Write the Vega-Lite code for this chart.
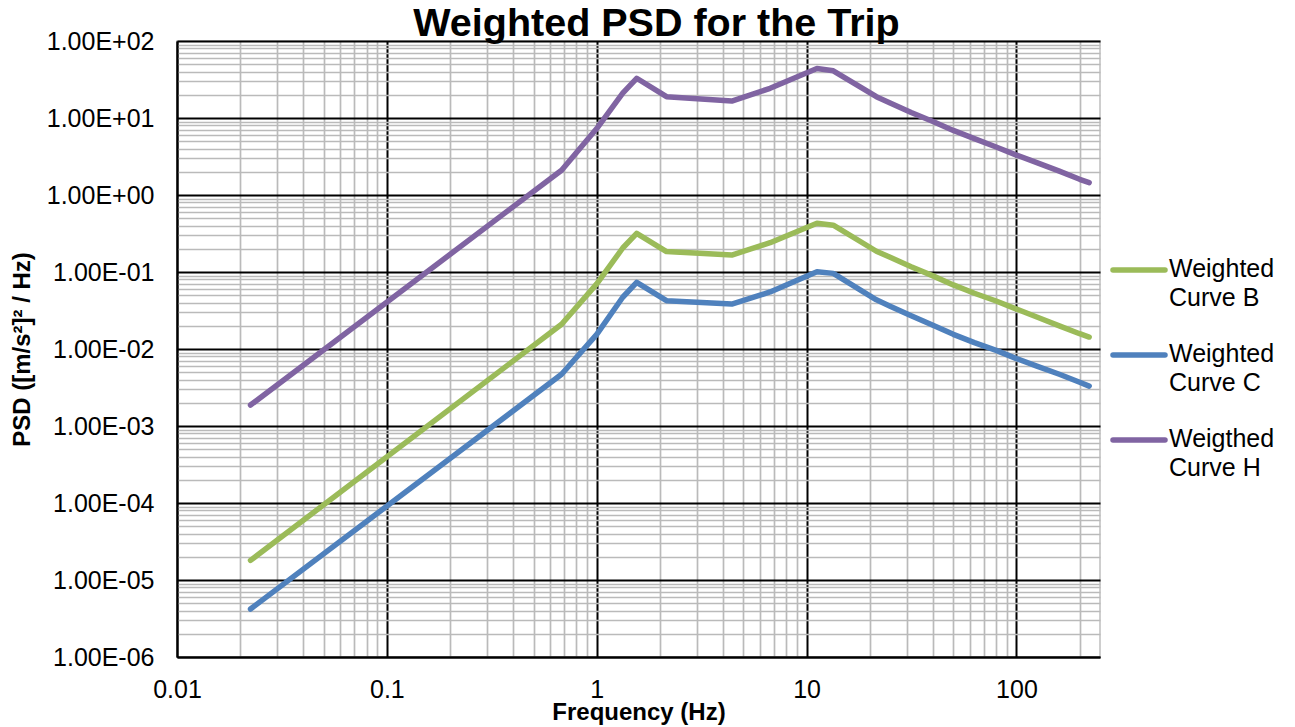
{
  "$schema": "https://vega.github.io/schema/vega-lite/v6.json",
  "width": 923,
  "height": 616,
  "autosize": {"type": "none"},
  "padding": {"left": 177, "top": 41, "right": 195, "bottom": 70},
  "background": "white",
  "config": {
    "view": {"stroke": "#bfbfbf", "strokeWidth": 1.5},
    "font": "Liberation Sans"
  },
  "title": {
    "text": "Weighted PSD for the Trip",
    "font": "Liberation Sans",
    "fontSize": 39.5,
    "fontWeight": "bold",
    "color": "black",
    "anchor": "middle",
    "dx": 18,
    "baseline": "alphabetic",
    "offset": -46
  },
  "data": {
    "values": [
      {"series": "Weighted Curve B", "f": 0.0224, "psd": 0.000018},
      {"series": "Weighted Curve B", "f": 0.68, "psd": 0.021},
      {"series": "Weighted Curve B", "f": 1.0, "psd": 0.07},
      {"series": "Weighted Curve B", "f": 1.33, "psd": 0.205},
      {"series": "Weighted Curve B", "f": 1.55, "psd": 0.318},
      {"series": "Weighted Curve B", "f": 2.15, "psd": 0.184},
      {"series": "Weighted Curve B", "f": 4.4, "psd": 0.166},
      {"series": "Weighted Curve B", "f": 6.7, "psd": 0.24},
      {"series": "Weighted Curve B", "f": 11.2, "psd": 0.43},
      {"series": "Weighted Curve B", "f": 13.4, "psd": 0.405},
      {"series": "Weighted Curve B", "f": 21.5, "psd": 0.186},
      {"series": "Weighted Curve B", "f": 25, "psd": 0.155},
      {"series": "Weighted Curve B", "f": 31.5, "psd": 0.117},
      {"series": "Weighted Curve B", "f": 40, "psd": 0.089},
      {"series": "Weighted Curve B", "f": 50, "psd": 0.068},
      {"series": "Weighted Curve B", "f": 63, "psd": 0.053},
      {"series": "Weighted Curve B", "f": 80, "psd": 0.042},
      {"series": "Weighted Curve B", "f": 100, "psd": 0.033},
      {"series": "Weighted Curve B", "f": 125, "psd": 0.026},
      {"series": "Weighted Curve B", "f": 160, "psd": 0.02},
      {"series": "Weighted Curve B", "f": 200, "psd": 0.0158},
      {"series": "Weighted Curve B", "f": 222, "psd": 0.0143},
      {"series": "Weighted Curve C", "f": 0.0224, "psd": 0.0000042},
      {"series": "Weighted Curve C", "f": 0.68, "psd": 0.0047},
      {"series": "Weighted Curve C", "f": 1.0, "psd": 0.0155},
      {"series": "Weighted Curve C", "f": 1.33, "psd": 0.047},
      {"series": "Weighted Curve C", "f": 1.55, "psd": 0.0734},
      {"series": "Weighted Curve C", "f": 2.15, "psd": 0.0424},
      {"series": "Weighted Curve C", "f": 4.4, "psd": 0.0384},
      {"series": "Weighted Curve C", "f": 6.7, "psd": 0.055},
      {"series": "Weighted Curve C", "f": 11.2, "psd": 0.101},
      {"series": "Weighted Curve C", "f": 13.4, "psd": 0.096},
      {"series": "Weighted Curve C", "f": 21.5, "psd": 0.0435},
      {"series": "Weighted Curve C", "f": 25, "psd": 0.036},
      {"series": "Weighted Curve C", "f": 31.5, "psd": 0.027},
      {"series": "Weighted Curve C", "f": 40, "psd": 0.0203},
      {"series": "Weighted Curve C", "f": 50, "psd": 0.0155},
      {"series": "Weighted Curve C", "f": 63, "psd": 0.0121},
      {"series": "Weighted Curve C", "f": 80, "psd": 0.0096},
      {"series": "Weighted Curve C", "f": 100, "psd": 0.0075},
      {"series": "Weighted Curve C", "f": 125, "psd": 0.006},
      {"series": "Weighted Curve C", "f": 160, "psd": 0.0047},
      {"series": "Weighted Curve C", "f": 200, "psd": 0.0037},
      {"series": "Weighted Curve C", "f": 222, "psd": 0.0033},
      {"series": "Weigthed Curve H", "f": 0.0224, "psd": 0.00187},
      {"series": "Weigthed Curve H", "f": 0.68, "psd": 2.1},
      {"series": "Weigthed Curve H", "f": 1.0, "psd": 7.3},
      {"series": "Weigthed Curve H", "f": 1.33, "psd": 21},
      {"series": "Weigthed Curve H", "f": 1.55, "psd": 32.8},
      {"series": "Weigthed Curve H", "f": 2.15, "psd": 18.9},
      {"series": "Weigthed Curve H", "f": 4.4, "psd": 16.6},
      {"series": "Weigthed Curve H", "f": 6.7, "psd": 24.3},
      {"series": "Weigthed Curve H", "f": 11.2, "psd": 44},
      {"series": "Weigthed Curve H", "f": 13.4, "psd": 41},
      {"series": "Weigthed Curve H", "f": 21.5, "psd": 18.9},
      {"series": "Weigthed Curve H", "f": 25, "psd": 15.7},
      {"series": "Weigthed Curve H", "f": 31.5, "psd": 11.8},
      {"series": "Weigthed Curve H", "f": 40, "psd": 9.0},
      {"series": "Weigthed Curve H", "f": 50, "psd": 6.9},
      {"series": "Weigthed Curve H", "f": 63, "psd": 5.4},
      {"series": "Weigthed Curve H", "f": 80, "psd": 4.2},
      {"series": "Weigthed Curve H", "f": 100, "psd": 3.3},
      {"series": "Weigthed Curve H", "f": 125, "psd": 2.63},
      {"series": "Weigthed Curve H", "f": 160, "psd": 2.04},
      {"series": "Weigthed Curve H", "f": 200, "psd": 1.6},
      {"series": "Weigthed Curve H", "f": 222, "psd": 1.45}
    ]
  },
  "mark": {"type": "line", "strokeWidth": 5.5, "strokeCap": "round", "strokeJoin": "round"},
  "encoding": {
    "x": {
      "field": "f",
      "type": "quantitative",
      "scale": {"type": "log", "domain": [0.01, 250], "nice": false},
      "axis": {
        "title": "Frequency (Hz)",
        "titleFont": "Liberation Sans",
        "titleFontSize": 24,
        "titleFontWeight": "bold",
        "titleColor": "black",
        "titlePadding": -2,
        "values": [0.01,0.02,0.03,0.04,0.05,0.06,0.07,0.08,0.09,0.1,0.2,0.3,0.4,0.5,0.6,0.7,0.8,0.9,1,2,3,4,5,6,7,8,9,10,20,30,40,50,60,70,80,90,100,200],
        "labelExpr": "abs(log(datum.value)/LN10 - round(log(datum.value)/LN10)) < 0.01 ? '' + datum.value : ''",
        "labelFont": "Liberation Sans",
        "labelFontSize": 25,
        "labelColor": "black",
        "labelPadding": 20,
        "labelFlush": false,
        "labelOverlap": false,
        "labelBound": false,
        "ticks": false,
        "domainColor": "black",
        "domainWidth": 2,
        "grid": true,
        "gridWidth": {"condition": {"test": "abs(log(datum.value)/LN10 - round(log(datum.value)/LN10)) < 0.01", "value": 2}, "value": 1.7},
        "gridColor": {"condition": {"test": "abs(log(datum.value)/LN10 - round(log(datum.value)/LN10)) < 0.01", "value": "black"}, "value": "#bababa"},
        "gridOpacity": 1
      }
    },
    "y": {
      "field": "psd",
      "type": "quantitative",
      "scale": {"type": "log", "domain": [0.000001, 100], "nice": false},
      "axis": {
        "title": "PSD ([m/s²]² / Hz)",
        "titleFont": "Liberation Sans",
        "titleFontSize": 24,
        "titleFontWeight": "bold",
        "titleColor": "black",
        "titlePadding": 12,
        "values": [0.000001,0.000002,0.000003,0.000004,0.000005,0.000006,0.000007,0.000008,0.000009,0.00001,0.00002,0.00003,0.00004,0.00005,0.00006,0.00007,0.00008,0.00009,0.0001,0.0002,0.0003,0.0004,0.0005,0.0006,0.0007,0.0008,0.0009,0.001,0.002,0.003,0.004,0.005,0.006,0.007,0.008,0.009,0.01,0.02,0.03,0.04,0.05,0.06,0.07,0.08,0.09,0.1,0.2,0.3,0.4,0.5,0.6,0.7,0.8,0.9,1,2,3,4,5,6,7,8,9,10,20,30,40,50,60,70,80,90,100],
        "labelExpr": "abs(log(datum.value)/LN10 - round(log(datum.value)/LN10)) < 0.01 ? '1.00E' + (round(log(datum.value)/LN10) < 0 ? '-0' : '+0') + abs(round(log(datum.value)/LN10)) : ''",
        "labelFont": "Liberation Sans",
        "labelFontSize": 25,
        "labelColor": "black",
        "labelPadding": 23,
        "labelOverlap": false,
        "labelBound": false,
        "labelFlush": false,
        "ticks": false,
        "domainColor": "black",
        "domainWidth": 2,
        "grid": true,
        "gridWidth": {"condition": {"test": "abs(log(datum.value)/LN10 - round(log(datum.value)/LN10)) < 0.01", "value": 2}, "value": 1.7},
        "gridColor": {"condition": {"test": "abs(log(datum.value)/LN10 - round(log(datum.value)/LN10)) < 0.01", "value": "black"}, "value": "#bababa"},
        "gridOpacity": 1
      }
    },
    "color": {
      "field": "series",
      "type": "nominal",
      "scale": {
        "domain": ["Weighted Curve B", "Weighted Curve C", "Weigthed Curve H"],
        "range": ["#9BBB59", "#4F81BD", "#8064A2"]
      },
      "legend": {
        "orient": "none",
        "legendX": 933,
        "legendY": 200,
        "title": null,
        "symbolType": "stroke",
        "symbolSize": 2704,
        "symbolStrokeWidth": 5.5,
        "labelFont": "Liberation Sans",
        "labelFontSize": 25,
        "labelColor": "black",
        "labelOffset": 1,
        "labelLimit": 300,
        "rowPadding": 15,
        "labelExpr": "[slice(datum.label, 0, 8), slice(datum.label, 9)]",
        "labelBaseline": "top",
        "encode": {
          "labels": {"update": {"lineHeight": {"value": 29}, "dy": {"value": -13}}},
          "symbols": {"update": {"strokeCap": {"value": "round"}}}
        }
      }
    }
  }
}
